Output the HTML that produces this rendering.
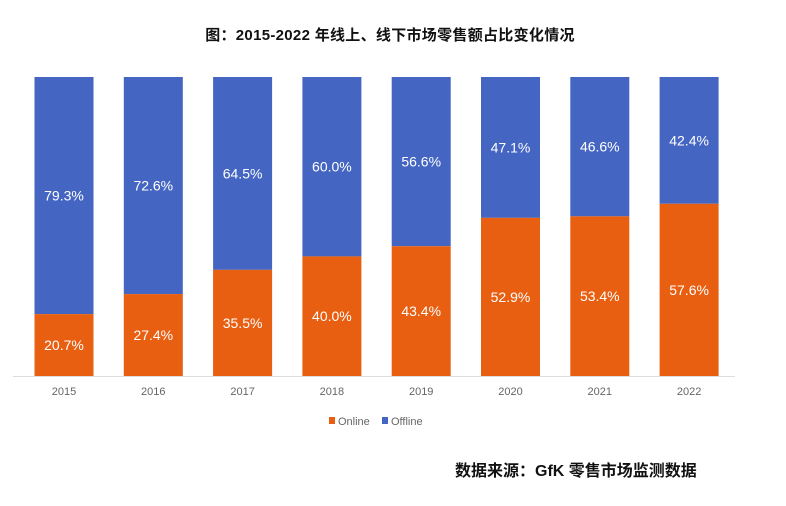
<!DOCTYPE html>
<html><head><meta charset="utf-8"><style>
body{margin:0;background:#fff;width:786px;height:506px;overflow:hidden;position:relative;font-family:"Liberation Sans","Noto Sans CJK SC",sans-serif}
.t{position:absolute;left:0;width:786px;text-align:center;top:24px;font-size:15px;font-weight:bold;color:#111;letter-spacing:0.3px}
.src{position:absolute;left:455px;top:457px;font-size:16px;font-weight:bold;color:#111}
</style></head><body>
<div class="t" style="left:-3px">图：2015-2022 年线上、线下市场零售额占比变化情况</div>
<svg width="786" height="506" style="position:absolute;left:0;top:0" font-family="Liberation Sans, sans-serif">
<line x1="13" y1="376.5" x2="735" y2="376.5" stroke="#ddd"/>
<g id="bars"></g>
</svg>
<div class="src">数据来源：GfK 零售市场监测数据</div>
<script>
(function(){
var d=[20.7,27.4,35.5,40.0,43.4,52.9,53.4,57.6],yrs=[2015,2016,2017,2018,2019,2020,2021,2022];
var s='';var y0=77,y1=376,hh=y1-y0;
for(var i=0;i<8;i++){var cx=64+i*89.3,x=cx-29.5,b=y1-hh*d[i]/100;
s+='<rect x="'+x+'" y="'+y0+'" width="59" height="'+(b-y0)+'" fill="#4466c2"/>';
s+='<rect x="'+x+'" y="'+b+'" width="59" height="'+(y1-b)+'" fill="#e85f11"/>';
s+='<text x="'+cx+'" y="'+((y0+b)/2+5)+'" fill="#fff" font-size="14" text-anchor="middle">'+(100-d[i]).toFixed(1)+'%</text>';
s+='<text x="'+cx+'" y="'+((b+y1)/2+5)+'" fill="#fff" font-size="14" text-anchor="middle">'+d[i].toFixed(1)+'%</text>';
s+='<text x="'+cx+'" y="395" fill="#666" font-size="11" text-anchor="middle">'+yrs[i]+'</text>';}
s+='<rect x="329" y="417" width="6" height="7" fill="#e85f11"/><text x="338" y="425" font-size="11" fill="#666">Online</text>';
s+='<rect x="382" y="417" width="6" height="7" fill="#4466c2"/><text x="391" y="425" font-size="11" fill="#666">Offline</text>';
document.getElementById('bars').innerHTML=s;
})();
</script>
</body></html>
